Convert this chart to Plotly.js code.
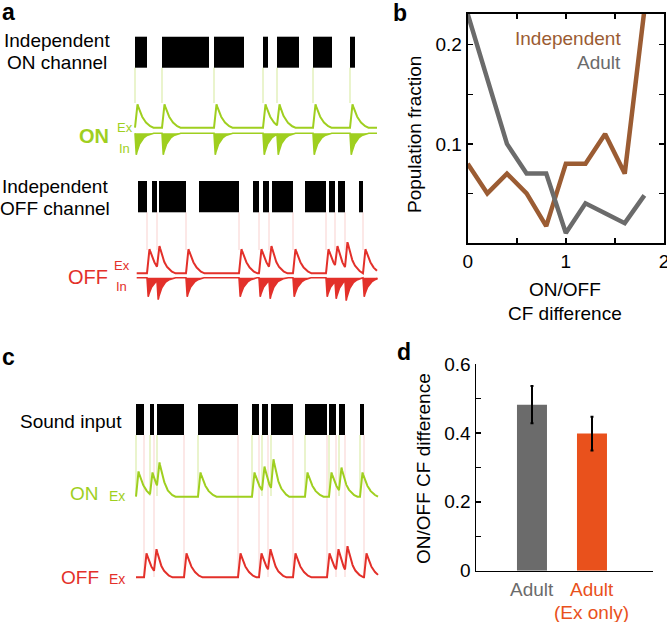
<!DOCTYPE html>
<html>
<head>
<meta charset="utf-8">
<script src="https://cdn.plot.ly/plotly-3.0.1.min.js"></script>
<style>html,body{margin:0;padding:0;background:#fff}#chart{width:667px;height:622px}</style>
</head>
<body>
<div id="chart"></div>
<script>
// ---------- DATA ----------
// Panel a/c: stimulus block onset / offset times (arbitrary time units)
const onChannelOn  = [0, 27, 79, 128, 142, 178, 215];
const onChannelOff = [12, 74, 109, 133, 164, 197, 220];
const offChannelOn  = [3, 17, 24, 64, 118, 128, 137, 170, 194, 203, 224];
const offChannelOff = [12, 22, 51, 104, 124, 134, 158, 191, 200, 210, 228];
const soundOn  = [1, 15, 22, 63, 117, 127, 136, 170, 194, 204, 225];
const soundOff = [9, 19, 49, 103, 124, 133, 158, 192, 201, 210, 229];

// relative peak heights of each response
const onExPeaksA  = [1, 1, 1, 1, 1, 1, 1];
const onInPeaksA  = [1, 1, 1, 1, 1, 1, 1];
const offExPeaksA = [1, 1.13, 1, 1, 1, 1.13, 1, 1, 1.13, 1.29, 1];
const offInPeaksA = [1, 1.15, 1, 1, 1, 1.1, 1, 1, 1.1, 1.2, 1];
const onExPeaksC  = [1.03, 0.99, 1.4, 0.99, 0.99, 1.23, 1.53, 0.99, 0.99, 1.19, 0.99];
const offExPeaksC = [1, 1.17, 1, 1, 1, 1.17, 1, 1, 1.17, 1.3, 1];

// response kernels (time after event, normalized amplitude)
const exKernelT = [0, 2.5, 4, 6, 8, 10, 12, 14, 16, 18];
const exKernelV = [0, 1, 0.8, 0.57, 0.4, 0.27, 0.17, 0.1, 0.04, 0];
const inKernelT = [0, 1.2, 2.5, 4.5, 6.5, 9, 12, 15, 18];
const inKernelV = [0, 1, 0.75, 0.5, 0.33, 0.2, 0.1, 0.04, 0];

// Panel b
const cfDiff = [0, 0.2, 0.4, 0.6, 0.8, 1.0, 1.2, 1.4, 1.6, 1.8];
const independentFrac = [0.08, 0.05, 0.07, 0.05, 0.017, 0.08, 0.08, 0.11, 0.07, 0.235];
const adultFrac = [0.231, 0.165, 0.1, 0.07, 0.07, 0.01, 0.04, 0.03, 0.02, 0.048];
const bXTicks = [0, 0.5, 1, 1.5, 2];
const bXTickText = ['0', '', '1', '', '2'];
const bYTicks = [0.05, 0.1, 0.15, 0.2];
const bYTickText = ['', '0.1', '', '0.2'];

// Panel d
const dGroups = ['Adult', 'Adult'];
const dGroupSub = ['', '(Ex only)'];
const dMean = [0.482, 0.398];
const dErr = [0.054, 0.049];
const dYTicks = [0, 0.1, 0.2, 0.3, 0.4, 0.5, 0.6];
const dYTickText = ['0', '', '0.2', '', '0.4', '', '0.6'];

// ---------- STYLE ----------
const GREEN = '#9fcf1f', RED = '#e3302a', BROWN = '#9b5c33', GREY = '#6b6b6b', ORANGE = '#e9511c';
const GREEN_LT = 'rgba(159,207,31,0.45)', RED_LT = 'rgba(227,48,42,0.22)';
const FONT = 'Liberation Sans, Arial, Helvetica, sans-serif';
const W = 667, H = 622;
const px = x => x / W, py = y => 1 - y / H;

// ---------- HELPERS ----------
function kern(T, V, t) {
  if (t <= 0 || t >= T[T.length - 1]) return 0;
  for (let i = 1; i < T.length; i++) {
    if (t <= T[i]) { const f = (t - T[i-1]) / (T[i] - T[i-1]); return V[i-1] + f * (V[i] - V[i-1]); }
  }
  return 0;
}
function response(events, peaks, T, V, t0, t1) {
  const tp = T[V.indexOf(Math.max(...V))];
  const amps = [];
  events.forEach((e, i) => {
    let r = 0;
    for (let j = 0; j < i; j++) r += amps[j] * kern(T, V, e + tp - events[j]);
    amps.push(Math.max(peaks[i] - r, 0.1));
  });
  const ts = [], vs = [];
  for (let t = t0; t <= t1 + 1e-9; t += 0.25) {
    let v = 0;
    events.forEach((e, i) => { v += amps[i] * kern(T, V, t - e); });
    ts.push(t); vs.push(v);
  }
  return { ts, vs };
}
function blocks(on, off, top, height, color) {
  return { type: 'bar', xaxis: 'x', yaxis: 'y',
    x: on.map((o, i) => (o + off[i]) / 2), width: on.map((o, i) => off[i] - o),
    y: on.map(() => height), base: on.map(() => top),
    marker: { color: color, line: { width: 0 } }, hoverinfo: 'skip' };
}
function exTrace(events, peaks, base, unit, color, t0, t1) {
  const r = response(events, peaks, exKernelT, exKernelV, t0, t1);
  return { type: 'scatter', mode: 'lines', xaxis: 'x', yaxis: 'y',
    x: r.ts, y: r.vs.map(v => base - unit * v), line: { color: color, width: 2 }, hoverinfo: 'skip' };
}
function inTrace(events, peaks, base, unit, color, t0, t1) {
  const r = response(events, peaks, inKernelT, inKernelV, t0, t1);
  const xs = r.ts.concat([t1]), ys = r.vs.map(v => base + unit * v).concat([base]);
  return { type: 'scatter', mode: 'lines', xaxis: 'x', yaxis: 'y', fill: 'toself', fillcolor: color,
    x: xs, y: ys, line: { color: color, width: 1.6 }, hoverinfo: 'skip' };
}
function connectors(times, y0, y1, color) {
  return times.map(t => ({ type: 'line', xref: 'x', yref: 'y', x0: t, x1: t, y0: y0, y1: y1,
    line: { color: color, width: 1 }, layer: 'below' }));
}

// ---------- TRACES ----------
const traces = [
  blocks(onChannelOn, onChannelOff, 36.7, 31, '#000'),
  exTrace(onChannelOn, onExPeaksA, 127.7, 23.4, GREEN, 0, 242),
  inTrace(onChannelOn, onInPeaksA, 133.3, 21.7, GREEN, 0, 242),
  blocks(offChannelOn, offChannelOff, 181, 31.3, '#000'),
  exTrace(offChannelOff, offExPeaksA, 273.3, 24.5, RED, 1.7, 242),
  inTrace(offChannelOff, offInPeaksA, 277.8, 19, RED, 1.7, 242),
  blocks(soundOn, soundOff, 404, 31, '#000'),
  exTrace(soundOn, onExPeaksC, 496.7, 24.5, GREEN, 1, 243),
  exTrace(soundOff, offExPeaksC, 577.3, 24, RED, 1, 243),
  // panel b
  { type: 'scatter', mode: 'lines', xaxis: 'x2', yaxis: 'y2', x: cfDiff, y: independentFrac,
    line: { color: BROWN, width: 4.5 }, hoverinfo: 'skip' },
  { type: 'scatter', mode: 'lines', xaxis: 'x2', yaxis: 'y2', x: cfDiff, y: adultFrac,
    line: { color: GREY, width: 4.5 }, hoverinfo: 'skip' },
  // panel d
  { type: 'bar', xaxis: 'x3', yaxis: 'y3', x: [0, 1], y: dMean, width: 0.5,
    marker: { color: [GREY, ORANGE], line: { width: 0 } },
    error_y: { type: 'data', array: dErr, color: '#000', thickness: 2, width: 1.5 }, hoverinfo: 'skip' }
];

const shapes = [].concat(
  connectors(onChannelOn, 67.7, 103, GREEN_LT),
  connectors(offChannelOff, 212.3, 250, RED_LT),
  connectors(soundOn, 435, 496, GREEN_LT),
  connectors(soundOff, 435, 577, RED_LT)
);

function ann(text, x, y, opts) {
  return Object.assign({ text: text, x: px(x), y: py(y), xref: 'paper', yref: 'paper',
    showarrow: false, xanchor: 'center', yanchor: 'middle', font: { size: 19, color: '#000', family: FONT } }, opts || {});
}
const annotations = [
  ann('<b>a</b>', 0, 12, { xanchor: 'left', font: { size: 23, family: FONT, color: '#000' } }),
  ann('<b>b</b>', 391, 13, { xanchor: 'left', font: { size: 23, family: FONT, color: '#000' } }),
  ann('<b>c</b>', 0, 357, { xanchor: 'left', font: { size: 23, family: FONT, color: '#000' } }),
  ann('<b>d</b>', 395, 352, { xanchor: 'left', font: { size: 23, family: FONT, color: '#000' } }),
  ann('Independent', 57, 40),
  ann('ON channel', 57, 63),
  ann('<b>ON</b>', 111, 136, { xanchor: 'right', font: { size: 20, color: GREEN, family: FONT } }),
  ann('Ex', 115, 128, { xanchor: 'left', font: { size: 13, color: GREEN, family: FONT } }),
  ann('In', 117, 148, { xanchor: 'left', font: { size: 13, color: GREEN, family: FONT } }),
  ann('Independent', 55, 186),
  ann('OFF channel', 55, 209),
  ann('OFF', 110, 277, { xanchor: 'right', font: { size: 20, color: RED, family: FONT } }),
  ann('Ex', 112, 266, { xanchor: 'left', font: { size: 13, color: RED, family: FONT } }),
  ann('In', 114, 287, { xanchor: 'left', font: { size: 13, color: RED, family: FONT } }),
  ann('Sound input', 124, 421, { xanchor: 'right' }),
  ann('ON', 101, 494, { xanchor: 'right', font: { size: 19, color: GREEN, family: FONT } }),
  ann('Ex', 107, 496, { xanchor: 'left', font: { size: 14, color: GREEN, family: FONT } }),
  ann('OFF', 101, 577, { xanchor: 'right', font: { size: 19, color: RED, family: FONT } }),
  ann('Ex', 107, 579, { xanchor: 'left', font: { size: 14, color: RED, family: FONT } }),
  // panel b
  ann('Independent', 623, 38, { xanchor: 'right', font: { size: 19, color: BROWN, family: FONT } }),
  ann('Adult', 623, 62, { xanchor: 'right', font: { size: 19, color: GREY, family: FONT } }),
  ann('Population fraction', 415, 135, { textangle: -90 }),
  ann('ON/OFF', 565, 289),
  ann('CF difference', 565, 313),
  // panel d
  ann('ON/OFF CF difference', 423, 469, { textangle: -90 }),
  { text: dGroups[0], x: 0, xref: 'x3', y: py(589), yref: 'paper', showarrow: false, yanchor: 'middle',
    font: { size: 19, color: GREY, family: FONT } },
  { text: dGroups[1], x: 1, xref: 'x3', y: py(589), yref: 'paper', showarrow: false, yanchor: 'middle',
    font: { size: 19, color: ORANGE, family: FONT } },
  { text: dGroupSub[1], x: 1, xref: 'x3', y: py(612), yref: 'paper', showarrow: false, yanchor: 'middle',
    font: { size: 19, color: ORANGE, family: FONT } }
];

const layout = {
  width: W, height: H, margin: { l: 0, r: 0, t: 0, b: 0 },
  paper_bgcolor: '#fff', plot_bgcolor: 'rgba(0,0,0,0)', showlegend: false, barmode: 'overlay',
  font: { family: FONT, size: 19, color: '#000' },
  xaxis: { domain: [px(130), px(382)], range: [-5, 247], visible: false, fixedrange: true },
  yaxis: { domain: [0, 1], range: [H, 0], visible: false, fixedrange: true },
  xaxis2: { domain: [px(467.7), px(664)], range: [0, 2], anchor: 'y2', showline: true, mirror: 'ticks',
    linecolor: '#000', linewidth: 2, ticks: 'inside', ticklen: 5, tickwidth: 1.5, tickcolor: '#000',
    tickvals: bXTicks, ticktext: bXTickText, showgrid: false, zeroline: false, tickfont: { size: 19 },
    ticklabeloverflow: 'allow' },
  yaxis2: { domain: [py(243), py(14)], range: [0, 0.231], anchor: 'x2', showline: true, mirror: 'ticks',
    linecolor: '#000', linewidth: 2, ticks: 'inside', ticklen: 5, tickwidth: 1.5, tickcolor: '#000',
    tickvals: bYTicks, ticktext: bYTickText, showgrid: false, zeroline: false, tickfont: { size: 19 } },
  xaxis3: { domain: [px(476), px(653)], range: [-0.933, 2.017], anchor: 'y3', showline: true,
    linecolor: '#000', linewidth: 1.5, ticks: '', showticklabels: false, showgrid: false, zeroline: false },
  yaxis3: { domain: [py(570.7), py(364)], range: [0, 0.6], anchor: 'x3', showline: true,
    linecolor: '#000', linewidth: 1.5, ticks: 'inside', ticklen: 5, tickwidth: 1.5, tickcolor: '#000',
    tickvals: dYTicks, ticktext: dYTickText, showgrid: false, zeroline: false, tickfont: { size: 19 } },
  shapes: shapes,
  annotations: annotations
};

Plotly.newPlot('chart', traces, layout, { staticPlot: true, displayModeBar: false });
</script>
</body>
</html>
